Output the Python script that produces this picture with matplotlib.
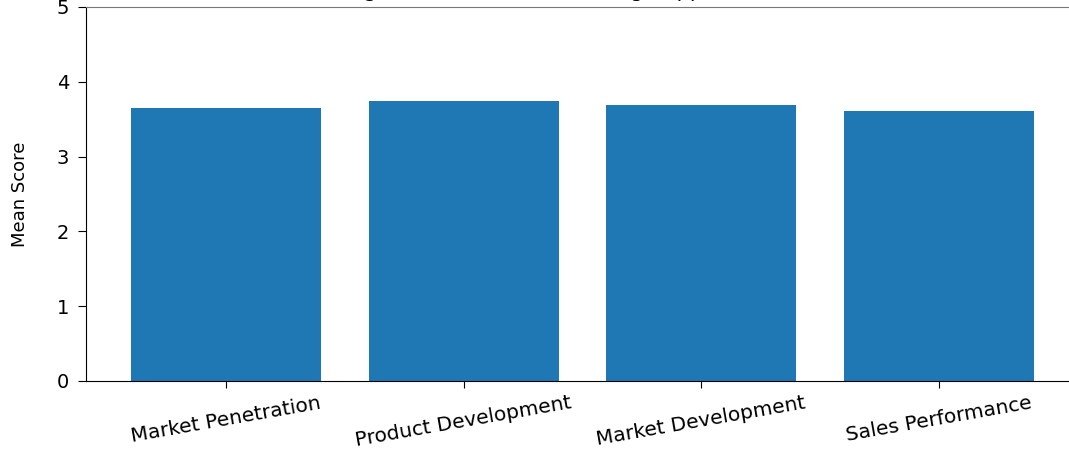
import matplotlib
matplotlib.use("Agg")
import matplotlib.pyplot as plt

categories = ["Market Penetration", "Product Development", "Market Development", "Sales Performance"]
mean_scores = [3.65, 3.74, 3.69, 3.61]
y_ticks = [0, 1, 2, 3, 4, 5]
title_text = "Average Scores of the Marketing Support Dimensions"

fig = plt.figure(figsize=(10.69, 4.54), dpi=100)
ax = fig.add_axes([0.0804, 0.1608, 0.929, 0.8238])

x = list(range(len(categories)))
ax.bar(x, mean_scores, width=0.8, color="#1f77b4")
ax.set_xticks(x)
ax.set_xticklabels(categories, rotation=10, ha="center", fontsize=14.5)
ax.set_ylim(0, 5)
ax.set_yticks(y_ticks)
ax.tick_params(axis="y", labelsize=14, length=6, pad=6)
ax.tick_params(axis="x", length=5, pad=4)
ax.set_ylabel("Mean Score", fontsize=13)
ax.yaxis.set_label_coords(-0.0574, 0.5)
ax.set_title(title_text, fontsize=15, pad=7)
ax.spines["top"].set_color("#777777")

fig.savefig("out.png", dpi=100)
